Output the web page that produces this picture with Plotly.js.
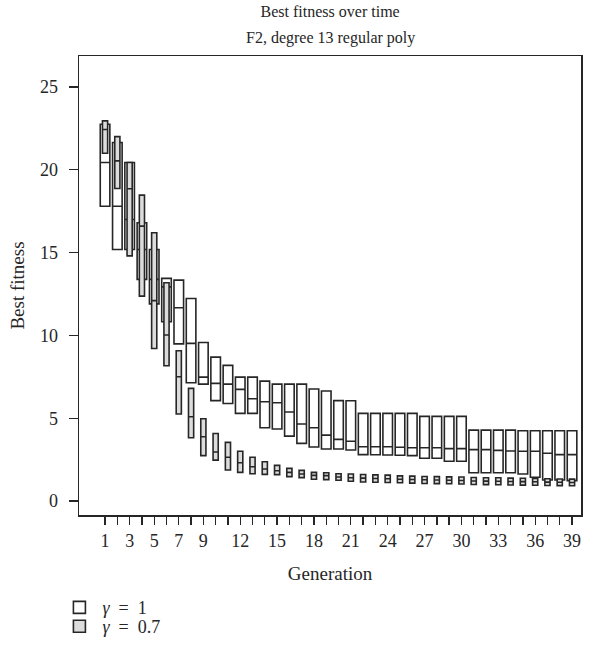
<!DOCTYPE html>
<html>
<head>
<meta charset="utf-8">
<script src="https://cdn.plot.ly/plotly-3.0.1.min.js"></script>
<style>
  html, body { margin: 0; padding: 0; background: #fff; }
  #chart { width: 597px; height: 659px; }
</style>
</head>
<body>
<div id="chart"></div>
<script>
// Generations 1..39
const generations = Array.from({length: 39}, (_, i) => i + 1);

// gamma = 1 : box top, median, box bottom per generation
const gamma1Top = [22.75, 21.65, 20.44, 16.8, 15.19, 13.44, 13.34, 12.23, 9.57, 8.69,
  8.19, 7.48, 7.48, 7.24, 7.06, 7.06, 7.06, 6.76, 6.64, 6.06,
  6.05, 5.29, 5.29, 5.29, 5.29, 5.29, 5.11, 5.11, 5.11, 5.11,
  4.28, 4.28, 4.28, 4.28, 4.24, 4.24, 4.24, 4.24, 4.24];
const gamma1Median = [20.44, 17.8, 17.0, 15.19, 13.38, 12.93, 11.67, 9.52, 7.48, 7.10,
  7.06, 6.74, 6.17, 5.99, 5.93, 5.37, 4.65, 4.42, 3.98, 3.72,
  3.61, 3.28, 3.28, 3.28, 3.25, 3.22, 3.22, 3.22, 3.16, 3.16,
  3.10, 3.10, 3.06, 3.02, 3.00, 3.00, 2.88, 2.80, 2.80];
const gamma1Bottom = [17.8, 15.19, 15.19, 13.38, 11.9, 10.82, 9.49, 7.14, 7.06, 6.06,
  5.89, 5.29, 5.29, 4.42, 4.35, 3.92, 3.48, 3.26, 3.14, 3.14,
  3.08, 2.80, 2.79, 2.78, 2.76, 2.74, 2.58, 2.58, 2.40, 2.40,
  1.71, 1.71, 1.71, 1.71, 1.63, 1.43, 1.27, 1.27, 1.23];

// gamma = 0.7 : box top, median, box bottom per generation
const gamma07Top = [22.95, 22.0, 20.44, 18.47, 16.2, 13.18, 9.07, 6.80, 4.97, 4.08,
  3.54, 3.0, 2.64, 2.37, 2.15, 1.97, 1.85, 1.73, 1.71, 1.65,
  1.63, 1.60, 1.58, 1.56, 1.52, 1.50, 1.48, 1.47, 1.46, 1.45,
  1.42, 1.40, 1.40, 1.38, 1.37, 1.36, 1.34, 1.33, 1.32];
const gamma07Median = [22.43, 20.54, 18.85, 16.6, 12.1, 10.02, 7.50, 5.09, 3.88, 2.96,
  2.64, 2.31, 2.07, 1.93, 1.83, 1.73, 1.63, 1.55, 1.53, 1.45,
  1.40, 1.38, 1.36, 1.34, 1.31, 1.30, 1.28, 1.27, 1.25, 1.24,
  1.21, 1.20, 1.19, 1.18, 1.17, 1.16, 1.14, 1.13, 1.12];
const gamma07Bottom = [21.0, 18.87, 14.8, 12.37, 9.21, 8.17, 5.25, 3.82, 2.74, 2.47,
  1.87, 1.73, 1.65, 1.61, 1.59, 1.47, 1.41, 1.31, 1.29, 1.25,
  1.19, 1.15, 1.13, 1.12, 1.10, 1.08, 1.06, 1.05, 1.04, 1.03,
  1.00, 0.99, 0.98, 0.97, 0.96, 0.95, 0.94, 0.93, 0.92];

// Tick labels on the generation axis (every generation gets a tick mark)
const labelledGenerations = [1, 3, 5, 7, 9, 12, 15, 18, 21, 24, 27, 30, 33, 36, 39];
const genTickText = generations.map(g => labelledGenerations.includes(g) ? String(g) : '');
const fitnessTicks = [0, 5, 10, 15, 20, 25];

const ink = '#262626';
const serif = 'Liberation Serif, Times New Roman, serif';

function boxTrace(name, legendId, top, mid, bottom, fill, width) {
  return {
    type: 'box',
    name: name,
    legend: legendId,
    x: generations,
    q1: bottom,
    median: mid,
    q3: top,
    lowerfence: bottom,
    upperfence: top,
    boxpoints: false,
    whiskerwidth: 0,
    width: width,
    fillcolor: fill,
    line: {color: ink, width: 1.6},
    hoverinfo: 'x+y'
  };
}

const data = [
  boxTrace('<i>γ</i>  =  1', 'legend', gamma1Top, gamma1Median, gamma1Bottom, '#ffffff', 0.78),
  boxTrace('<i>γ</i>  =  0.7', 'legend2', gamma07Top, gamma07Median, gamma07Bottom, '#dcdcdc', 0.42)
];

const legendBase = {
  x: -0.045, xanchor: 'left',
  yanchor: 'middle',
  font: {family: serif, size: 18, color: ink},
  itemwidth: 36,
  bgcolor: 'rgba(0,0,0,0)'
};

const layout = {
  width: 597,
  height: 659,
  margin: {l: 79, r: 16, t: 56, b: 144},
  paper_bgcolor: '#ffffff',
  plot_bgcolor: '#ffffff',
  font: {family: serif, size: 18, color: ink},
  title: {
    text: 'Best fitness over time',
    font: {family: serif, size: 16, color: ink},
    x: 0.553, xanchor: 'center',
    y: 0.982, yanchor: 'middle'
  },
  annotations: [{
    text: 'F2, degree 13 regular poly',
    xref: 'paper', yref: 'paper',
    x: 0.5, y: 1.039,
    xanchor: 'center', yanchor: 'middle',
    showarrow: false,
    font: {family: serif, size: 16, color: ink}
  }],
  boxmode: 'overlay',
  showlegend: true,
  legend: Object.assign({}, legendBase, {y: -0.202}),
  legend2: Object.assign({}, legendBase, {y: -0.243}),
  xaxis: {
    range: [-1.12, 39.73],
    tickmode: 'array',
    tickvals: generations,
    ticktext: genTickText,
    ticks: 'outside',
    ticklen: 8,
    tickwidth: 1.3,
    tickcolor: ink,
    ticklabelstandoff: 1,
    tickfont: {family: serif, size: 18, color: ink},
    showline: true,
    linecolor: ink,
    linewidth: 1.5,
    mirror: true,
    showgrid: false,
    zeroline: false,
    title: {text: 'Generation', font: {family: serif, size: 19, color: ink}, standoff: 16}
  },
  yaxis: {
    range: [-0.845, 26.87],
    tickmode: 'array',
    tickvals: fitnessTicks,
    ticks: 'outside',
    ticklen: 9,
    tickwidth: 1.3,
    tickcolor: ink,
    ticklabelstandoff: 7,
    tickfont: {family: serif, size: 18, color: ink},
    showline: true,
    linecolor: ink,
    linewidth: 1.5,
    mirror: true,
    showgrid: false,
    zeroline: false,
    title: {text: 'Best fitness', font: {family: serif, size: 19, color: ink}, standoff: 10}
  }
};

Plotly.newPlot('chart', data, layout, {displayModeBar: false, staticPlot: true});
</script>
</body>
</html>
